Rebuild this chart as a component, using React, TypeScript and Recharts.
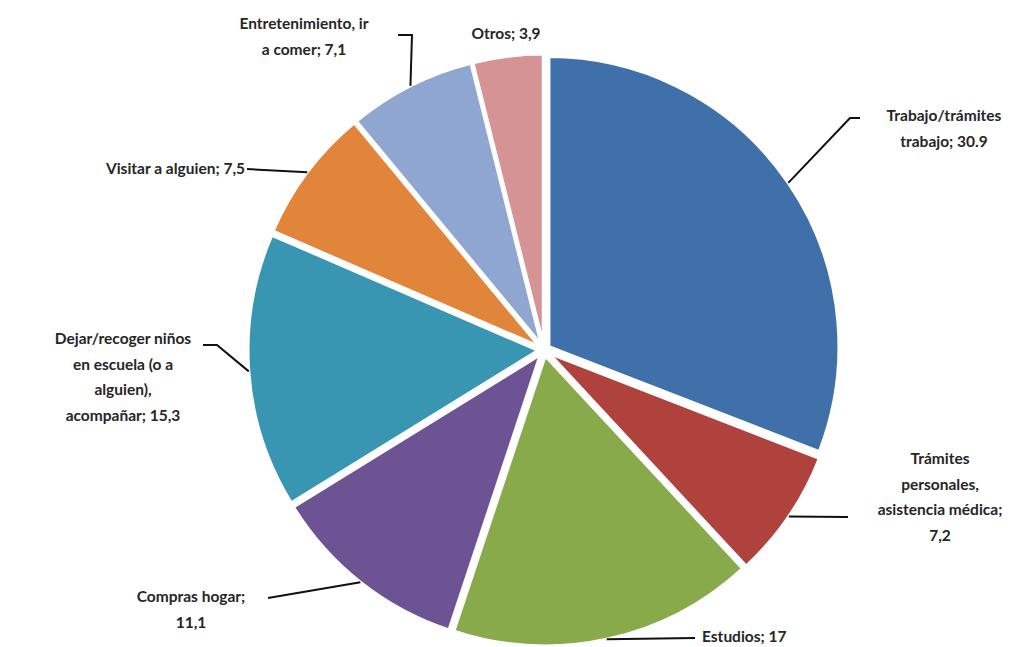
import React from "react";
import { PieChart, Pie, Cell, Sector } from "recharts";

const categories = [
  "Trabajo/trámites trabajo",
  "Trámites personales, asistencia médica",
  "Estudios",
  "Compras hogar",
  "Dejar/recoger niños en escuela (o a alguien), acompañar",
  "Visitar a alguien",
  "Entretenimiento, ir a comer",
  "Otros",
];
const values = [30.9, 7.2, 17, 11.1, 15.3, 7.5, 7.1, 3.9];
const valueLabels = ["30.9", "7,2", "17", "11,1", "15,3", "7,5", "7,1", "3,9"];
const labelLines = [
  ["Trabajo/trámites", "trabajo; 30.9"],
  ["Trámites", "personales,", "asistencia médica;", "7,2"],
  ["Estudios; 17"],
  ["Compras hogar;", "11,1"],
  ["Dejar/recoger niños", "en escuela (o a", "alguien),", "acompañar; 15,3"],
  ["Visitar a alguien; 7,5"],
  ["Entretenimiento, ir", "a comer; 7,1"],
  ["Otros; 3,9"],
];
const colors = ["#3f70a9", "#b0423e", "#88aa4b", "#6c5494", "#3896b3", "#e1853a", "#8fa7d0", "#d69393"];

// label placement relative to pie centre: text x, first line y, anchor, leader elbow points
const labelLayout = [
  { x: 400, y: -235, anchor: "middle", leader: [[306, -232], [316, -232]] },
  { x: 396, y: 108, anchor: "middle", leader: [[304, 167]] },
  { x: 158, y: 286, anchor: "start", leader: [[151, 288]] },
  { x: -353, y: 246, anchor: "middle", leader: [[-276, 248]] },
  { x: -421, y: -12, anchor: "middle", leader: [[-327, -5], [-341, -5]] },
  { x: -299, y: -182, anchor: "end", leader: [[-297, -181]] },
  { x: -240, y: -327, anchor: "middle", leader: [[-132, -315], [-146, -315]] },
  { x: -38, y: -317, anchor: "middle", leader: [] },
];

const data = categories.map((name, i) => ({ name, value: values[i], label: valueLabels[i] }));

const RAD = Math.PI / 180;
const EXPLODE = 6;
const LINE_H = 25.5;

const explodedShape = (props: any) => {
  const { cx, cy, midAngle } = props;
  const dx = EXPLODE * Math.cos(-midAngle * RAD);
  const dy = EXPLODE * Math.sin(-midAngle * RAD);
  return <Sector {...props} cx={cx + dx} cy={cy + dy} />;
};

const renderLabel = (props: any) => {
  const { cx, cy, midAngle, outerRadius, index } = props;
  const lay = labelLayout[index];
  const r = outerRadius + EXPLODE;
  const sx = cx + r * Math.cos(-midAngle * RAD);
  const sy = cy + r * Math.sin(-midAngle * RAD);
  const pts = [[sx, sy], ...lay.leader.map(([x, y]) => [cx + x, cy + y])];
  return (
    <g>
      {lay.leader.length > 0 && (
        <polyline
          points={pts.map((p) => p.join(",")).join(" ")}
          fill="none"
          stroke="#111"
          strokeWidth={2}
        />
      )}
      <text
        x={cx + lay.x}
        y={cy + lay.y}
        textAnchor={lay.anchor as any}
        fontFamily="Lato, sans-serif"
        fontWeight={700}
        fontSize={15.5}
        fill="#262626"
      >
        {labelLines[index].map((line, j) => (
          <tspan key={j} x={cx + lay.x} y={cy + lay.y + j * LINE_H} dominantBaseline="central">
            {line}
          </tspan>
        ))}
      </text>
    </g>
  );
};

export default function App() {
  return (
    <PieChart width={1013} height={639}>
      <Pie
        data={data}
        dataKey="value"
        nameKey="name"
        cx={531}
        cy={337}
        outerRadius={290}
        startAngle={90}
        endAngle={-270}
        stroke="#fff"
        strokeWidth={3}
        shape={explodedShape}
        label={renderLabel}
        labelLine={false}
        isAnimationActive={false}
      >
        {data.map((d, i) => (
          <Cell key={d.name} fill={colors[i]} />
        ))}
      </Pie>
    </PieChart>
  );
}
